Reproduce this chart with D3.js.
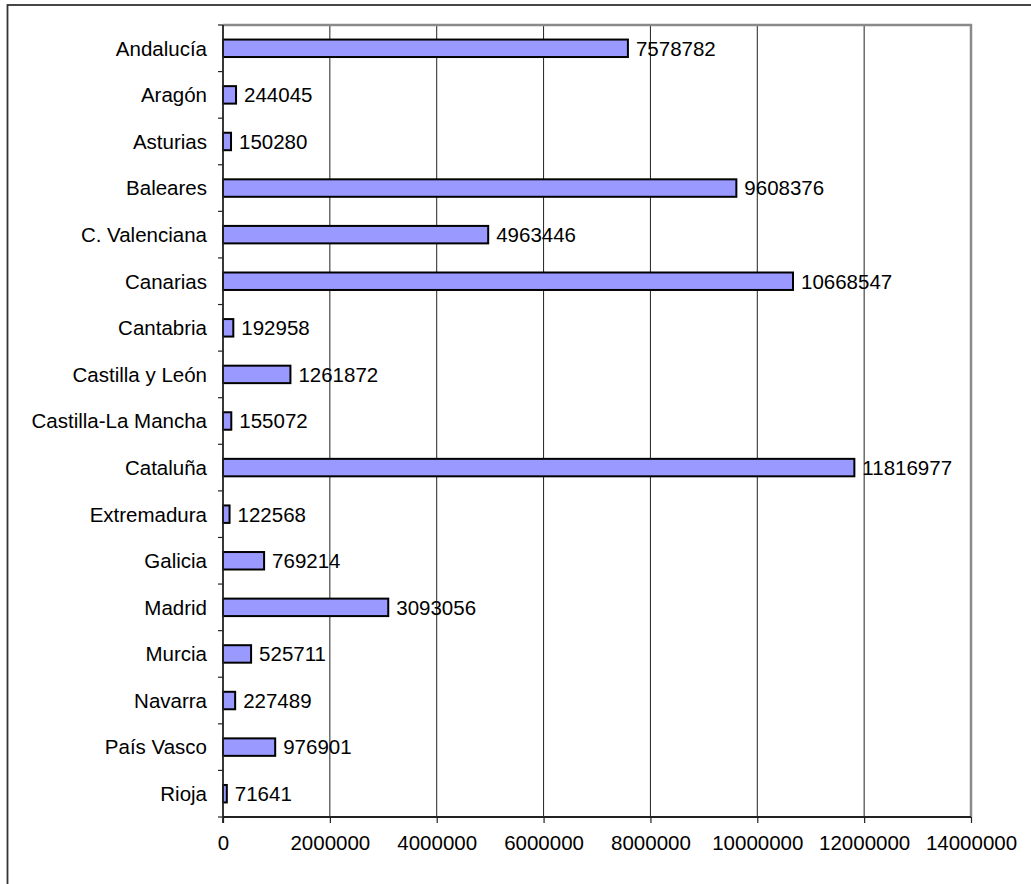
<!DOCTYPE html>
<html>
<head>
<meta charset="utf-8">
<script src="https://cdn.jsdelivr.net/npm/d3@7"></script>
<style>
  html, body { margin: 0; padding: 0; background: #fff; }
  svg { display: block; }
  text { font-family: "Liberation Sans", Arial, Helvetica, sans-serif; fill: #000; }
</style>
</head>
<body>
<svg id="chart" width="1031" height="884"></svg>
<script>
// Regions (comunidades autónomas) and their values
const regions = [
  "Andalucía", "Aragón", "Asturias", "Baleares", "C. Valenciana", "Canarias",
  "Cantabria", "Castilla y León", "Castilla-La Mancha", "Cataluña", "Extremadura",
  "Galicia", "Madrid", "Murcia", "Navarra", "País Vasco", "Rioja"
];
const values = [
  7578782, 244045, 150280, 9608376, 4963446, 10668547,
  192958, 1261872, 155072, 11816977, 122568,
  769214, 3093056, 525711, 227489, 976901, 71641
];
const xTicks = [0, 2000000, 4000000, 6000000, 8000000, 10000000, 12000000, 14000000];

const data = regions.map((r, i) => ({ region: r, value: values[i] }));

const svg = d3.select("#chart");
const plot = { left: 223, top: 25, right: 971, bottom: 817 };
const fontSize = "20.5px";

// Outer chart frame
svg.append("rect")
  .attr("x", 7.5).attr("y", 5)
  .attr("width", 1040).attr("height", 900)
  .attr("fill", "none").attr("stroke", "#333").attr("stroke-width", 1.8);

const x = d3.scaleLinear().domain([0, 14000000]).range([plot.left, plot.right]);
const y = d3.scaleBand().domain(regions).range([plot.top, plot.bottom]).paddingInner(0.625).paddingOuter(0.3125);
const yBounds = d3.scaleLinear().domain([0, regions.length]).range([plot.top, plot.bottom]);

// Vertical gridlines
svg.append("g")
  .selectAll("line")
  .data(xTicks.slice(1, -1))
  .join("line")
  .attr("x1", d => x(d)).attr("x2", d => x(d))
  .attr("y1", plot.top).attr("y2", plot.bottom)
  .attr("stroke", "#222").attr("stroke-width", 1);

// Plot area border (top and right, gray)
svg.append("path")
  .attr("d", `M${plot.left},${plot.top}H${plot.right}V${plot.bottom}`)
  .attr("fill", "none").attr("stroke", "#8a8a8a").attr("stroke-width", 2.5);

// Bars
svg.append("g")
  .selectAll("rect")
  .data(data)
  .join("rect")
  .attr("x", x(0))
  .attr("y", d => y(d.region))
  .attr("width", d => x(d.value) - x(0))
  .attr("height", y.bandwidth())
  .attr("fill", "#9999FF")
  .attr("stroke", "#000")
  .attr("stroke-width", 2);

// Value labels
svg.append("g")
  .selectAll("text")
  .data(data)
  .join("text")
  .attr("x", d => x(d.value) + 8)
  .attr("y", d => y(d.region) + y.bandwidth() / 2)
  .attr("dy", "0.36em")
  .attr("font-size", fontSize)
  .text(d => d.value);

// X axis
const xAxis = svg.append("g")
  .attr("transform", `translate(0,${plot.bottom})`)
  .call(d3.axisBottom(x).tickValues(xTicks).tickFormat(d3.format("d")).tickSize(6).tickPadding(12));
xAxis.select(".domain").attr("stroke", "#222").attr("stroke-width", 1.8)
  .attr("d", `M${plot.left},0H${plot.right}`);
xAxis.selectAll(".tick line").attr("stroke", "#222").attr("stroke-width", 1.2);
xAxis.selectAll(".tick text")
  .attr("font-size", fontSize)
  .attr("font-family", "Liberation Sans, Arial, sans-serif")
  .attr("fill", "#000");

// Y axis: line with ticks at category boundaries
const yAxis = svg.append("g");
yAxis.append("line")
  .attr("x1", plot.left).attr("x2", plot.left)
  .attr("y1", plot.top).attr("y2", plot.bottom + 6)
  .attr("stroke", "#222").attr("stroke-width", 1.8);
yAxis.selectAll("line.tick")
  .data(d3.range(regions.length + 1))
  .join("line")
  .attr("class", "tick")
  .attr("x1", plot.left - 5).attr("x2", plot.left)
  .attr("y1", d => yBounds(d)).attr("y2", d => yBounds(d))
  .attr("stroke", "#222").attr("stroke-width", 1.2);
yAxis.selectAll("text")
  .data(regions)
  .join("text")
  .attr("x", plot.left - 16)
  .attr("y", d => y(d) + y.bandwidth() / 2)
  .attr("dy", "0.36em")
  .attr("text-anchor", "end")
  .attr("font-size", fontSize)
  .text(d => d);
</script>
</body>
</html>
